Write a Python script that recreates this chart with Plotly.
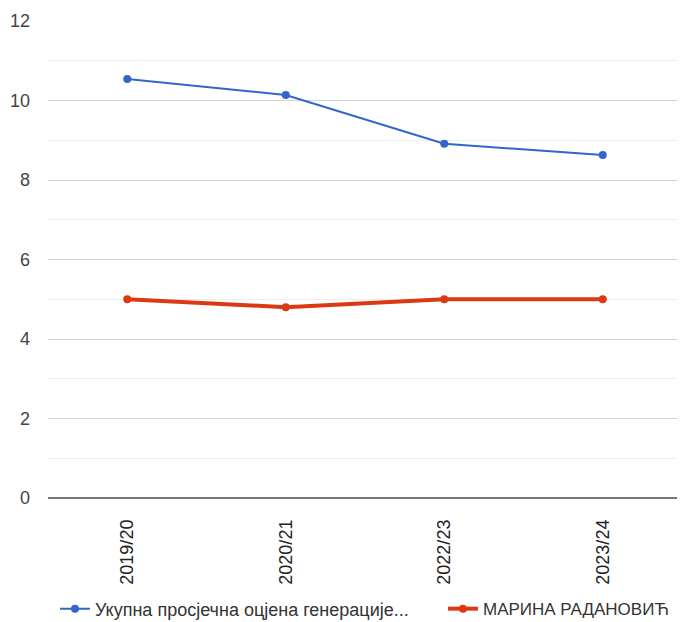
import plotly.graph_objects as go

categories = ["2019/20", "2020/21", "2022/23", "2023/24"]
generation_avg = [10.54, 10.14, 8.91, 8.63]
student_avg = [5.0, 4.8, 5.0, 5.0]
series_names = ["Укупна просјечна оцјена генерације...", "МАРИНА РАДАНОВИЋ"]
y_ticks = [0, 2, 4, 6, 8, 10, 12]

fig = go.Figure()
fig.add_trace(go.Scatter(
    x=categories, y=generation_avg, name=series_names[0], mode="lines+markers",
    line=dict(color="#3366cc", width=2), marker=dict(color="#3366cc", size=8),
    legend="legend"))
fig.add_trace(go.Scatter(
    x=categories, y=student_avg, name=series_names[1], mode="lines+markers",
    line=dict(color="#dc3912", width=4), marker=dict(color="#dc3912", size=8),
    legend="legend2"))

legend_common = dict(orientation="h", xref="container", yref="container",
                     y=0.021, xanchor="left", yanchor="middle",
                     bgcolor="rgba(0,0,0,0)")

fig.update_layout(
    width=677, height=614,
    margin=dict(l=40, r=3, t=13, b=124),
    paper_bgcolor="white", plot_bgcolor="white",
    font=dict(family="Liberation Sans, Arial, sans-serif", size=18, color="#444"),
    showlegend=True,
    legend=dict(x=0.0694, font=dict(size=18, color="#333"), **legend_common),
    legend2=dict(x=0.6425, font=dict(size=17, color="#333"), **legend_common),
    xaxis=dict(type="category", tickangle=-90, showgrid=False, showline=False,
               ticks="", tickfont=dict(size=18, color="#222"),
               range=[-0.5, 3.5], ticklabelstandoff=17),
    yaxis=dict(range=[0, 12], tickvals=y_ticks, showgrid=True, gridcolor="#d4d4d4",
               gridwidth=1, zeroline=True, zerolinecolor="#777777", zerolinewidth=2,
               ticks="", tickfont=dict(size=18, color="#444"), ticklabelstandoff=17,
               minor=dict(dtick=1, showgrid=True, gridcolor="#eeeeee", gridwidth=1)),
)

fig.write_html("out.html")
